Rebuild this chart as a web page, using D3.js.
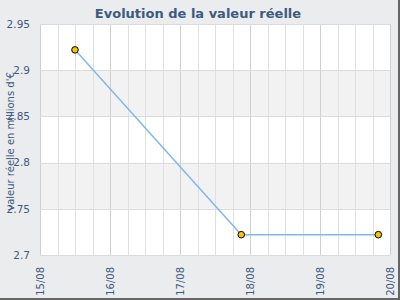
<!DOCTYPE html>
<html><head><meta charset="utf-8">
<script src="https://cdn.jsdelivr.net/npm/d3@7"></script>
<style>
html,body{margin:0;padding:0;background:#fff;}
svg{display:block;}
</style></head>
<body>
<svg id="c" width="400" height="300"></svg>
<script>
const titleText = "Evolution de la valeur réelle";
const yTitle = "valeur réelle en millions d'€";
const dates = ["2023-08-15T12:00", "2023-08-17T21:00", "2023-08-19T20:00"];
const values = [2.922, 2.722, 2.722];
const yTicks = [2.7, 2.75, 2.8, 2.85, 2.9, 2.95];
const xTickLabels = ["15/08", "16/08", "17/08", "18/08", "19/08", "20/08"];

const svg = d3.select("#c");
const W = 400, H = 300;
const m = {l: 40, r: 10, t: 24, b: 45};
const pw = W - m.l - m.r, ph = H - m.t - m.b;

svg.append("rect").attr("width", W).attr("height", H).attr("fill", "#ebecee");
// frame shadow right/bottom
svg.append("line").attr("x1", W - 1).attr("x2", W - 1).attr("y1", 0).attr("y2", H).attr("stroke", "#666").attr("stroke-width", 2);
svg.append("line").attr("x1", 0).attr("x2", W).attr("y1", H - 1).attr("y2", H - 1).attr("stroke", "#666").attr("stroke-width", 2);

const parse = d3.timeParse("%Y-%m-%dT%H:%M");
const data = dates.map((d, i) => ({t: parse(d), v: values[i]}));
const x = d3.scaleTime().domain([parse("2023-08-15T00:00"), parse("2023-08-20T00:00")]).range([m.l, m.l + pw]);
const y = d3.scaleLinear().domain([2.7, 2.95]).range([m.t + ph, m.t]);

const g = svg.append("g");
g.append("rect").attr("x", m.l).attr("y", m.t).attr("width", pw).attr("height", ph).attr("fill", "#fff");
// alternating bands
for (let i = 0; i < yTicks.length - 1; i++) {
  if (i % 2 === 1) {
    g.append("rect").attr("x", m.l).attr("y", y(yTicks[i + 1])).attr("width", pw)
      .attr("height", y(yTicks[i]) - y(yTicks[i + 1])).attr("fill", "#f2f2f2");
  }
}
// vertical grid (6-hour minor, daily major)
const minor = d3.timeHour.every(6).range(x.domain()[0], d3.timeHour.offset(x.domain()[1], 1));
g.selectAll(".vg").data(minor).join("line")
  .attr("x1", d => Math.round(x(d)) + 0.5).attr("x2", d => Math.round(x(d)) + 0.5)
  .attr("y1", m.t).attr("y2", m.t + ph)
  .attr("stroke", d => d.getHours() === 0 ? "#cfcfcf" : "#e0e0e0").attr("stroke-width", 1);
g.selectAll(".hg").data(yTicks).join("line")
  .attr("x1", m.l).attr("x2", m.l + pw)
  .attr("y1", d => Math.round(y(d)) + 0.5).attr("y2", d => Math.round(y(d)) + 0.5)
  .attr("stroke", "#dcdcdc");

// y tick labels
const yAxis = d3.axisLeft(y).tickValues(yTicks).tickSize(0).tickPadding(10).tickFormat(d => String(+d.toFixed(2)));
const ya = svg.append("g").attr("transform", `translate(${m.l},0)`).call(yAxis);
ya.select(".domain").remove();
ya.selectAll("text").attr("fill", "#3d5a80").attr("font-family", "DejaVu Sans").attr("font-size", 10.5);

// x tick labels
const xAxis = d3.axisBottom(x).ticks(d3.timeDay.every(1)).tickSize(0).tickFormat((d, i) => xTickLabels[i]);
const xa = svg.append("g").attr("transform", `translate(0,${m.t + ph})`).call(xAxis);
xa.select(".domain").remove();
xa.selectAll("text").attr("fill", "#3d5a80").attr("font-family", "DejaVu Sans").attr("font-size", 10)
  .attr("text-anchor", "end").attr("dy", null).attr("y", 0)
  .attr("transform", "translate(3.6,12) rotate(-90)");

// line
svg.append("path").datum(data)
  .attr("d", d3.line().x(d => x(d.t)).y(d => y(d.v)))
  .attr("fill", "none").attr("stroke", "#80b8ee").attr("stroke-width", 1.5);
svg.selectAll(".pt").data(data).join("circle")
  .attr("cx", d => x(d.t)).attr("cy", d => y(d.v)).attr("r", 3.3)
  .attr("fill", "#f5c400").attr("stroke", "#000").attr("stroke-width", 1);

// title
svg.append("text").attr("x", 198).attr("y", 18).attr("text-anchor", "middle")
  .attr("font-family", "DejaVu Sans").attr("font-weight", "bold").attr("font-size", 13)
  .attr("fill", "#3d5a80").text(titleText);
// y title
svg.append("text").attr("transform", `translate(14,${m.t + ph / 2 + 2}) rotate(-90)`)
  .attr("text-anchor", "middle").attr("font-family", "DejaVu Sans").attr("font-size", 10)
  .attr("fill", "#3d5a80").text(yTitle);
</script>
</body></html>
